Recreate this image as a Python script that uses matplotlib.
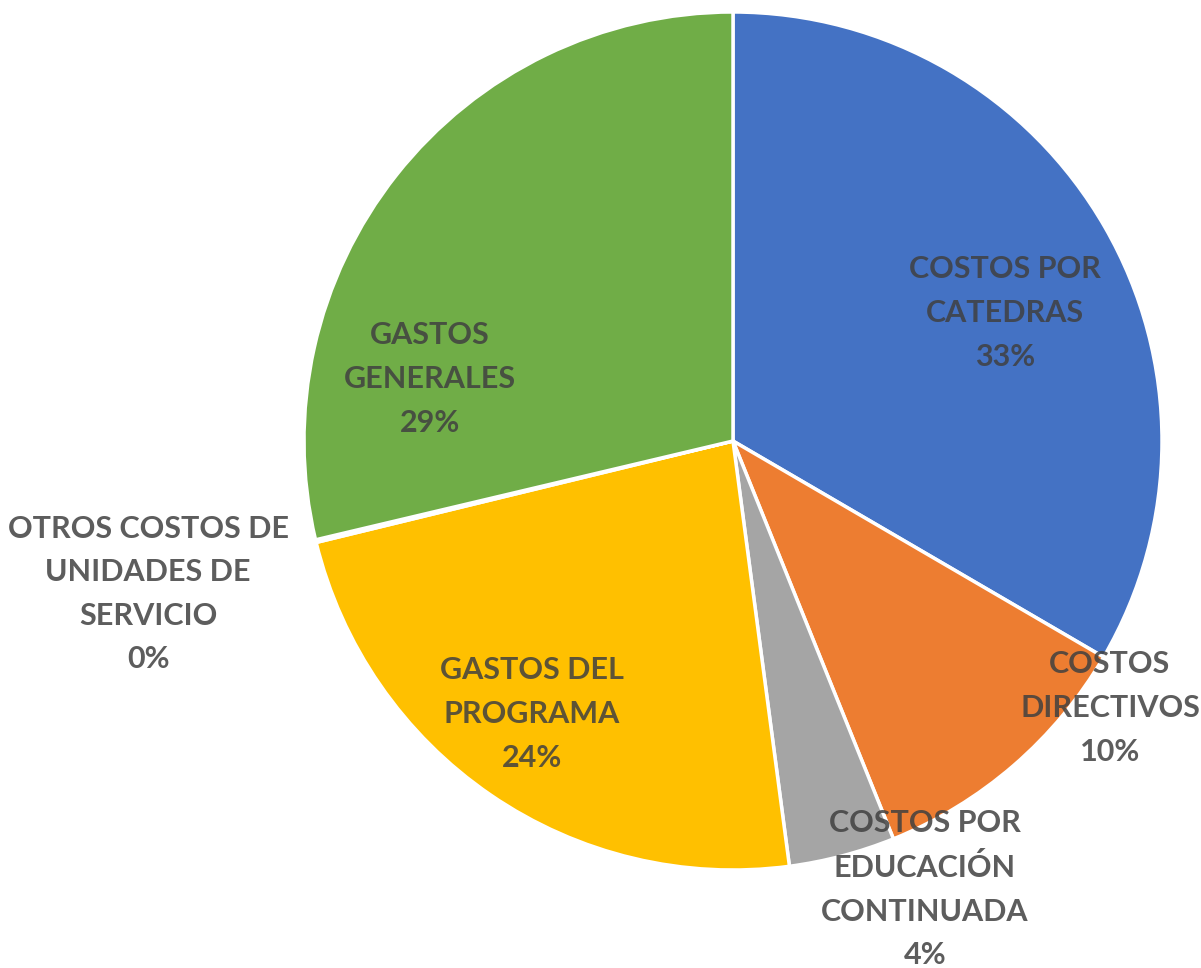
import matplotlib.pyplot as plt

# datos (porcentajes aproximados)
categorias = ["COSTOS POR\nCATEDRAS", "COSTOS\nDIRECTIVOS", "COSTOS POR\nEDUCACIÓN\nCONTINUADA",
              "GASTOS DEL\nPROGRAMA", "OTROS COSTOS DE\nUNIDADES DE\nSERVICIO", "GASTOS\nGENERALES"]
valores = [33.4, 10.5, 4.0, 23.3, 0.1, 28.7]
etiquetas_pct = ["33%", "10%", "4%", "24%", "0%", "29%"]
colores = ["#4472C4", "#ED7D31", "#A5A5A5", "#FFC000", "#5B9BD5", "#70AD47"]

# posiciones de las etiquetas (pixeles, y desde arriba)
pos_etiquetas = [(1005, 313), (1110, 708), (925, 889), (532, 714), (148, 594), (430, 379)]

W, H = 1201, 968
fig = plt.figure(figsize=(W / 100, H / 100), dpi=100)
ax = fig.add_axes([0, 0, 1, 1])

ax.pie(valores, colors=colores, startangle=90, counterclock=False,
       center=(733, H - 441), radius=429,
       wedgeprops=dict(edgecolor="white", linewidth=2.5))

for cat, pct, (x, y) in zip(categorias, etiquetas_pct, pos_etiquetas):
    ax.text(x, H - y, cat + "\n" + pct, ha="center", va="center",
            fontsize=22, fontweight="bold", family="Lato",
            color="#404040", alpha=0.85, linespacing=1.68)

ax.set_xlim(0, W)
ax.set_ylim(0, H)
ax.set_aspect("equal")
ax.axis("off")

fig.savefig("out.png", dpi=100)
